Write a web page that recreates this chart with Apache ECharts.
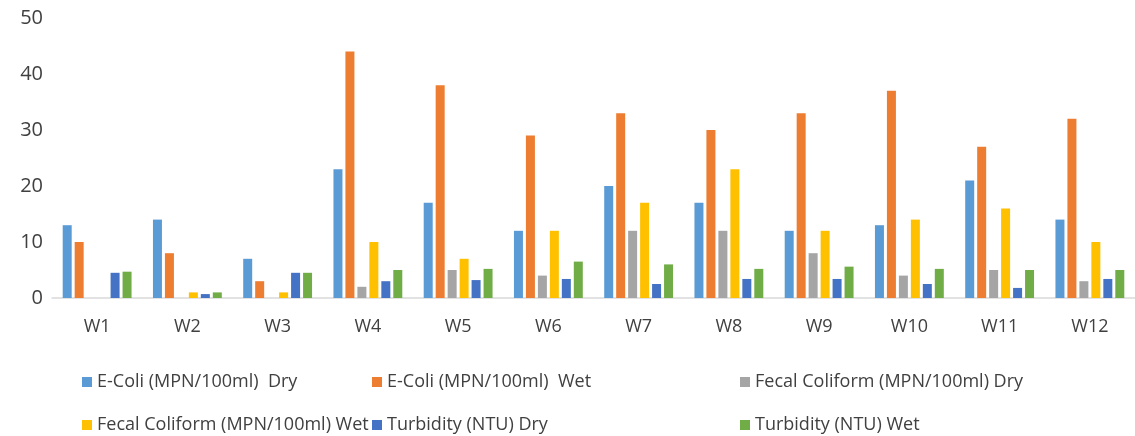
<!DOCTYPE html>
<html><head><meta charset="utf-8">
<script src="https://cdn.jsdelivr.net/npm/echarts@6/dist/echarts.min.js"></script>
<style>html,body{margin:0;padding:0;background:#fff}#c{width:1135px;height:436px}</style>
</head><body><div id="c"></div>
<script>
const categories = ['W1','W2','W3','W4','W5','W6','W7','W8','W9','W10','W11','W12'];
const yTicks = [0,10,20,30,40,50];
const seriesNames = ['E-Coli (MPN/100ml)  Dry','E-Coli (MPN/100ml)  Wet','Fecal Coliform (MPN/100ml) Dry','Fecal Coliform (MPN/100ml) Wet','Turbidity (NTU) Dry','Turbidity (NTU) Wet'];
const ecoliDry = [13,14,7,23,17,12,20,17,12,13,21,14];
const ecoliWet = [10,8,3,44,38,29,33,30,33,37,27,32];
const fecalDry = [0,0,0,2,5,4,12,12,8,4,5,3];
const fecalWet = [0,1,1,10,7,12,17,23,12,14,16,10];
const turbDry = [4.5,0.7,4.5,3,3.2,3.4,2.5,3.4,3.4,2.5,1.8,3.4];
const turbWet = [4.7,1,4.5,5,5.2,6.5,6,5.2,5.6,5.2,5,5];
const colors = ['#5B9BD5','#ED7D31','#A5A5A5','#FFC000','#4472C4','#70AD47'];
const values = [ecoliDry, ecoliWet, fecalDry, fecalWet, turbDry, turbWet];

const font = '"Open Sans", "Noto Sans", sans-serif';
const textColor = '#404040';
const chart = echarts.init(document.getElementById('c'));
const legendLefts = [82, 372, 740, 82, 372, 740];
const legendTops = [373, 373, 373, 416, 416, 416];
const legendOrder = [0, 1, 2, 3, 4, 5];
chart.setOption({
  animation:false,
  color: colors,
  grid:{left:52, top:18, width:1086, height:280, containLabel:false},
  legend: legendOrder.map((si,k)=>({
    left:legendLefts[k], top:legendTops[k], itemWidth:10, itemHeight:10, icon:'rect',
    data:[seriesNames[si]], padding:0,
    textStyle:{fontFamily:font, fontSize:18, color:textColor}
  })),
  xAxis:{type:'category', data:categories,
    axisLine:{lineStyle:{color:'#D9D9D9', width:1.5}}, axisTick:{show:false},
    axisLabel:{fontFamily:font, fontSize:18, color:textColor, margin:20}},
  yAxis:{type:'value', min:yTicks[0], max:yTicks[yTicks.length-1], interval:10,
    axisLine:{show:false}, axisTick:{show:false}, splitLine:{show:false},
    axisLabel:{fontFamily:font, fontSize:20, color:textColor, margin:9}},
  series: seriesNames.map((n,i)=>({name:n, type:'bar', data:values[i], barWidth:9, barGap:'33%'}))
});
</script></body></html>
